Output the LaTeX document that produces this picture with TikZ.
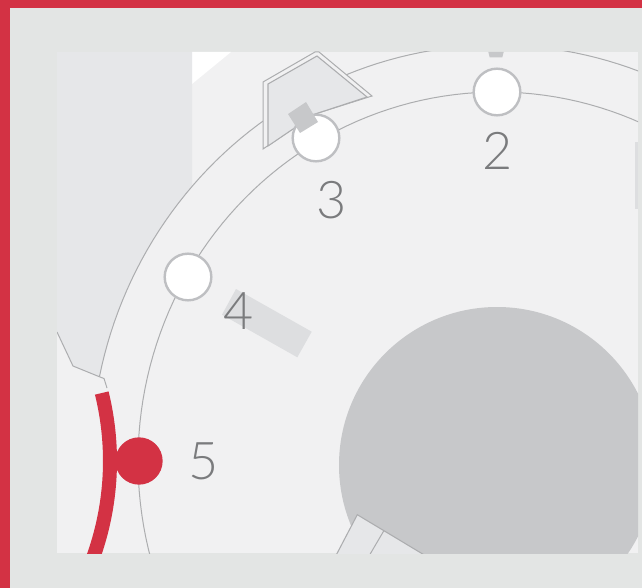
\documentclass[tikz,border=0pt]{standalone}
\usepackage{xcolor}
\usepackage{fontspec}
\usepackage{tikz}
\newfontfamily\numfont{Lato}[UprightFont=* Light]
\definecolor{framegray}{RGB}{227,229,228}
\definecolor{panelgray}{RGB}{241,241,242}
\definecolor{sidegray}{RGB}{230,231,233}
\definecolor{discgray}{RGB}{199,200,202}
\definecolor{barblue}{RGB}{221,222,224}
\definecolor{linegray}{RGB}{172,173,175}
\definecolor{bulletgray}{RGB}{190,191,194}
\definecolor{numgray}{RGB}{122,123,125}
\definecolor{mutedred}{RGB}{211,50,68}
\tikzset{
  ringline/.style={linegray,line width=0.75pt},
  slotshape/.style={fill=sidegray,draw=linegray,line width=0.8pt,line join=miter},
  bullet/.style={circle,fill=white,draw=bulletgray,line width=1.8pt,minimum size=35pt,inner sep=0pt},
  numlabel/.style={numgray,font=\numfont\fontsize{39}{39}\selectfont,inner sep=0pt}
}
\begin{document}
\begin{tikzpicture}[x=0.75pt,y=-0.75pt]
  \useasboundingbox (0,0) rectangle (642,588);
  \fill[framegray] (0,0) rectangle (642,588);
  \fill[panelgray] (57,52) rectangle (638,553);
  \begin{scope}
    \clip (57,52) rectangle (638,553);
    % corner and side areas
    \fill[white] (192,52)--(231,52)--(192,84)--cycle;
    \fill[sidegray] (57,52)--(192,52)--(192,186)
      --plot[domain=221.3:191.7,samples=30] ({497+406*cos(\x)},{461+416*sin(\x)})
      --(73,366)--(57,332)--cycle;
    \draw[ringline] (57,332)--(73,366)--(100,377)--(104,378.5)--(107,388);
    % rings
    \draw[ringline] plot[domain=191.7:300,samples=70] ({497+406*cos(\x)},{461+416*sin(\x)});
    \draw[ringline] plot[domain=150:310,samples=90] ({497+359*cos(\x)},{461+369*sin(\x)});
    % hub
    \fill[discgray] (497,465) circle (118.5pt);
    \draw[slotshape] (335.7,556)--(357.3,514.7)--(426,556);
    \draw[ringline] (383.7,531)--(369,556);
    \fill[discgray] (488.3,52)--(503.7,52)--(502.3,57.3)--(489.7,57.3)--cycle;
    % bracket
    \draw[ringline,fill=panelgray] (263,82)--(315,52)--(319,52)--(372,96)--(315,114)--(263,149)--cycle;
    \draw[slotshape] (268,84)--(317,56)--(367,97)--(315,114)--(268,146)--cycle;
    % scale stroke
    \draw[mutedred,line width=10.5pt] plot[domain=-13.8:25,samples=40] ({-175+285*cos(\x)},{461+285*sin(\x)});
  \end{scope}
  \fill[barblue] (635,142) rectangle (638,209);
  \fill[barblue] (236,289)--(311.7,331.7)--(297.3,357.3)--(222,314.7)--cycle;
  % positions
  \node[bullet] (pos2) at (497,92) {};
  \node[bullet] (pos3) at (316,138) {};
  \node[bullet] (pos4) at (188,277) {};
  \node[circle,fill=mutedred,minimum size=35.5pt,inner sep=0pt] (pos5) at (139,461) {};
  \fill[discgray] (288,114)--(306,102)--(318,122)--(300,133)--cycle;
  \node[numlabel] (num2) at (498,151) {2};
  \node[numlabel] (num3) at (332,200) {3};
  \node[numlabel] (num4) at (239,311) {4};
  \node[numlabel] (num5) at (204,461) {5};
  % frame edges
  \fill[mutedred] (0,0) rectangle (642,8);
  \fill[mutedred] (0,0) rectangle (10,588);
\end{tikzpicture}
\end{document}
